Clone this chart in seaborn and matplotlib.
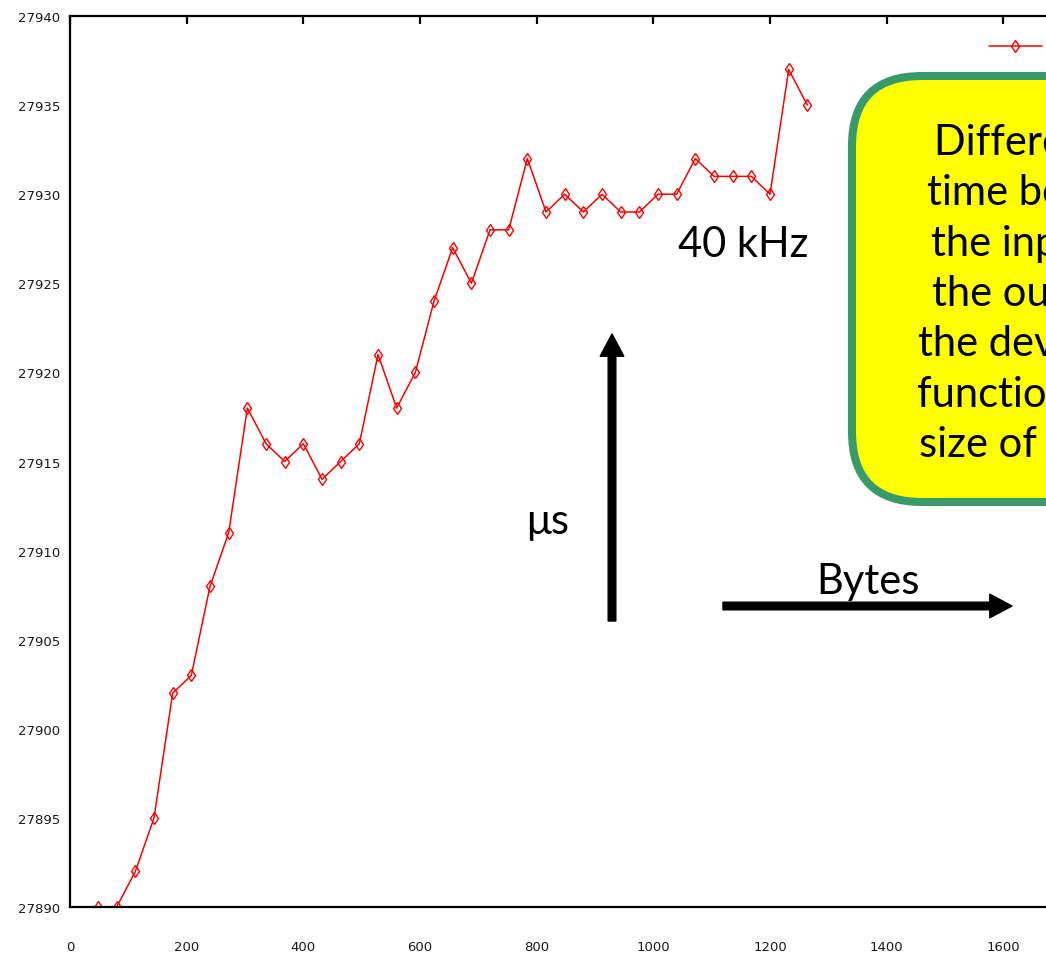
import pandas as pd
import seaborn as sns
import matplotlib.pyplot as plt
from matplotlib.lines import Line2D
from matplotlib.patches import FancyBboxPatch
from matplotlib.transforms import IdentityTransform

# packet size (bytes) vs. input->output delay (microseconds)
packet_bytes = [48, 80, 112, 144, 176, 208, 240, 272, 304, 336,
                368, 400, 432, 464, 496, 528, 560, 592, 624, 656,
                688, 720, 752, 784, 816, 848, 880, 912, 944, 976,
                1008, 1040, 1072, 1104, 1136, 1168, 1200, 1232, 1264]
delay_us = [27890, 27890, 27892, 27895, 27902, 27903, 27908, 27911, 27918, 27916,
            27915, 27916, 27914, 27915, 27916, 27921, 27918, 27920, 27924, 27927,
            27925, 27928, 27928, 27932, 27929, 27930, 27929, 27930, 27929, 27929,
            27930, 27930, 27932, 27931, 27931, 27931, 27930, 27937, 27935]
x_ticks = [0, 200, 400, 600, 800, 1000, 1200, 1400, 1600]
y_ticks = [27890, 27895, 27900, 27905, 27910, 27915, 27920, 27925, 27930, 27935, 27940]

box_lines = ["Difference in", "time between", "the input and", "the output of",
             "the device as a", "function of the", "size of packets"]

df = pd.DataFrame({"bytes": packet_bytes, "delay": delay_us})

sns.set_style("white")
plt.rcParams["font.family"] = ["DejaVu Sans"]

W, H = 1046, 954
fig = plt.figure(figsize=(W / 100, H / 100), dpi=100)
# plot frame runs past the right edge of the picture (the original is cropped)
ax = fig.add_axes([70 / W, 46 / H, 1050 / W, 891 / H])

sns.lineplot(data=df, x="bytes", y="delay", ax=ax, color="red", lw=1.1,
             marker="d", markersize=6, markerfacecolor="none",
             markeredgecolor="red", markeredgewidth=1, legend=False)

ax.set_xlim(0, 1800)
ax.set_ylim(27890, 27940)
ax.set_xticks(x_ticks)
ax.set_yticks(y_ticks)
ax.ticklabel_format(useOffset=False, style="plain")
ax.set_xlabel("")
ax.set_ylabel("")
for s in ax.spines.values():
    s.set_visible(True)
    s.set_color("black")
    s.set_linewidth(1.6)
ax.tick_params(direction="in", length=6, width=1.6, top=True, right=True,
               color="black", labelcolor="#1a1a1a", labelsize=9.5)
ax.tick_params(axis="x", pad=24)
ax.tick_params(axis="y", pad=7)

# key sample (its title lies outside the cropped picture)
key = Line2D([], [], color="red", lw=1.1, marker="d", markersize=6,
             markerfacecolor="none", markeredgecolor="red")
ax.legend([key], [""], loc="center left", bbox_to_anchor=(989 / W, (H - 48) / H),
          bbox_transform=fig.transFigure, frameon=False, borderpad=0,
          borderaxespad=0, handlelength=4.2, handletextpad=0, fontsize=9)

# annotations from the slide
px = IdentityTransform()
box = FancyBboxPatch((852, H - 503), 420, 426,
                     boxstyle="round,pad=0,rounding_size=70",
                     facecolor="#ffff00", edgecolor="#389a68", linewidth=5.8,
                     transform=px)
fig.add_artist(box)
fig.text(1053, H - 294, "\n".join(box_lines), transform=px, ha="center",
         va="center", multialignment="center", family="Lato", fontsize=30,
         linespacing=1.4, color="black")

for label, (tx, ty) in {"40 kHz": (743, 245), "μs": (548, 522),
                        "Bytes": (868, 582)}.items():
    fig.text(tx, H - ty, label, transform=px, ha="center", va="center",
             family="Lato", fontsize=30, color="black")

arrow = dict(facecolor="black", edgecolor="black", width=5.5, headwidth=17,
             headlength=16, shrink=0)
ax.annotate("", xy=(612, H - 335), xytext=(612, H - 622),
            xycoords="figure pixels", textcoords="figure pixels", arrowprops=arrow)
ax.annotate("", xy=(1012, H - 607), xytext=(723, H - 607),
            xycoords="figure pixels", textcoords="figure pixels", arrowprops=arrow)

fig.savefig("out.png", dpi=100)
